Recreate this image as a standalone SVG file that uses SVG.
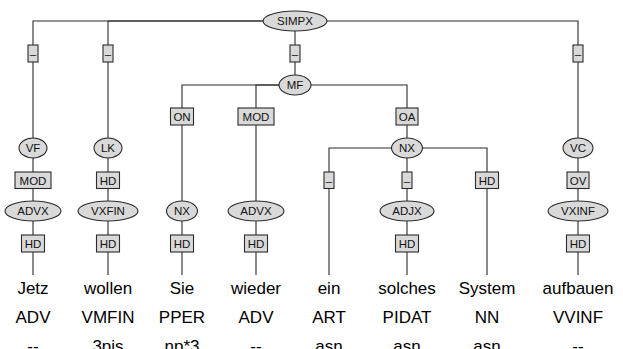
<svg xmlns="http://www.w3.org/2000/svg" width="623" height="349" viewBox="0 0 623 349">
<style>
.e,.b{fill:#d9d9d9;stroke:#2b2b2b;stroke-width:1.1}
.c{fill:none;stroke:#2b2b2b;stroke-width:1.1}
.l{font-family:"Liberation Sans",Arial,sans-serif;font-size:11.5px;fill:#111;text-anchor:middle;dominant-baseline:central}
.w{font-family:"Liberation Sans",Arial,sans-serif;font-size:17px;fill:#000;text-anchor:middle}
</style>
<rect width="623" height="349" fill="#fff"/>
<g id="connectors">
<path class="c" d="M295,21H33V275"/>
<path class="c" d="M295,21H108V275"/>
<path class="c" d="M295,21H578V275"/>
<path class="c" d="M295,21V85"/>
<path class="c" d="M295,85H182V275"/>
<path class="c" d="M295,85H256V275"/>
<path class="c" d="M295,85H407V148"/>
<path class="c" d="M407,148H329V275"/>
<path class="c" d="M407,148V275"/>
<path class="c" d="M407,148H487V275"/>
</g>
<g id="n-simpx"><ellipse class="e" cx="295" cy="21" rx="32" ry="10"/><text class="l" x="295" y="21">SIMPX</text></g>
<g id="n-d1"><rect class="b" x="28" y="45" width="10" height="17"/><text class="l" x="33" y="53.5">–</text></g>
<g id="n-d2"><rect class="b" x="103" y="45" width="10" height="17"/><text class="l" x="108" y="53.5">–</text></g>
<g id="n-d3"><rect class="b" x="290" y="45" width="10" height="17"/><text class="l" x="295" y="53.5">–</text></g>
<g id="n-d4"><rect class="b" x="573" y="45" width="10" height="17"/><text class="l" x="578" y="53.5">–</text></g>
<g id="n-mf"><ellipse class="e" cx="295" cy="85" rx="16" ry="10"/><text class="l" x="295" y="85">MF</text></g>
<g id="n-on"><rect class="b" x="170.5" y="108" width="23" height="17"/><text class="l" x="182" y="116.5">ON</text></g>
<g id="n-mod2"><rect class="b" x="238" y="108" width="36" height="17"/><text class="l" x="256" y="116.5">MOD</text></g>
<g id="n-oa"><rect class="b" x="396" y="108" width="22" height="17"/><text class="l" x="407" y="116.5">OA</text></g>
<g id="n-vf"><ellipse class="e" cx="33" cy="148" rx="14" ry="10"/><text class="l" x="33" y="148">VF</text></g>
<g id="n-lk"><ellipse class="e" cx="108" cy="148" rx="14" ry="10"/><text class="l" x="108" y="148">LK</text></g>
<g id="n-nx2"><ellipse class="e" cx="407" cy="148" rx="15.5" ry="10"/><text class="l" x="407" y="148">NX</text></g>
<g id="n-vc"><ellipse class="e" cx="578" cy="148" rx="15" ry="10"/><text class="l" x="578" y="148">VC</text></g>
<g id="n-mod1"><rect class="b" x="15" y="172" width="36" height="16.5"/><text class="l" x="33" y="180.5">MOD</text></g>
<g id="n-hd-lk"><rect class="b" x="96.5" y="172" width="23" height="16.5"/><text class="l" x="108" y="180.5">HD</text></g>
<g id="n-d5"><rect class="b" x="324" y="172" width="10" height="16.5"/><text class="l" x="329" y="180.5">–</text></g>
<g id="n-d6"><rect class="b" x="402" y="172" width="10" height="16.5"/><text class="l" x="407" y="180.5">–</text></g>
<g id="n-hd-nn"><rect class="b" x="475.5" y="172" width="23" height="16.5"/><text class="l" x="487" y="180.5">HD</text></g>
<g id="n-ov"><rect class="b" x="567" y="172" width="22" height="16.5"/><text class="l" x="578" y="180.5">OV</text></g>
<g id="n-advx1"><ellipse class="e" cx="33" cy="211" rx="28" ry="10"/><text class="l" x="33" y="211">ADVX</text></g>
<g id="n-vxfin"><ellipse class="e" cx="108" cy="211" rx="30" ry="10"/><text class="l" x="108" y="211">VXFIN</text></g>
<g id="n-nx1"><ellipse class="e" cx="182" cy="211" rx="15.5" ry="10"/><text class="l" x="182" y="211">NX</text></g>
<g id="n-advx2"><ellipse class="e" cx="256" cy="211" rx="28" ry="10"/><text class="l" x="256" y="211">ADVX</text></g>
<g id="n-adjx"><ellipse class="e" cx="407" cy="211" rx="27" ry="10"/><text class="l" x="407" y="211">ADJX</text></g>
<g id="n-vxinf"><ellipse class="e" cx="578" cy="211" rx="30" ry="10"/><text class="l" x="578" y="211">VXINF</text></g>
<g id="n-hd1"><rect class="b" x="21.5" y="235" width="23" height="17"/><text class="l" x="33" y="243.5">HD</text></g>
<g id="n-hd2"><rect class="b" x="96.5" y="235" width="23" height="17"/><text class="l" x="108" y="243.5">HD</text></g>
<g id="n-hd3"><rect class="b" x="170.5" y="235" width="23" height="17"/><text class="l" x="182" y="243.5">HD</text></g>
<g id="n-hd4"><rect class="b" x="244.5" y="235" width="23" height="17"/><text class="l" x="256" y="243.5">HD</text></g>
<g id="n-hd5"><rect class="b" x="395.5" y="235" width="23" height="17"/><text class="l" x="407" y="243.5">HD</text></g>
<g id="n-hd6"><rect class="b" x="566.5" y="235" width="23" height="17"/><text class="l" x="578" y="243.5">HD</text></g>
<g id="words">
<text class="w" x="33" y="294">Jetz</text><text class="w" x="33" y="323">ADV</text><text class="w" x="33" y="352">--</text>
<text class="w" x="108" y="294">wollen</text><text class="w" x="108" y="323">VMFIN</text><text class="w" x="108" y="352">3pis</text>
<text class="w" x="182" y="294">Sie</text><text class="w" x="182" y="323">PPER</text><text class="w" x="182" y="352">np*3</text>
<text class="w" x="256" y="294">wieder</text><text class="w" x="256" y="323">ADV</text><text class="w" x="256" y="352">--</text>
<text class="w" x="329" y="294">ein</text><text class="w" x="329" y="323">ART</text><text class="w" x="329" y="352">asn</text>
<text class="w" x="407" y="294">solches</text><text class="w" x="407" y="323">PIDAT</text><text class="w" x="407" y="352">asn</text>
<text class="w" x="487" y="294">System</text><text class="w" x="487" y="323">NN</text><text class="w" x="487" y="352">asn</text>
<text class="w" x="578" y="294">aufbauen</text><text class="w" x="578" y="323">VVINF</text><text class="w" x="578" y="352">--</text>
</g>
</svg>
